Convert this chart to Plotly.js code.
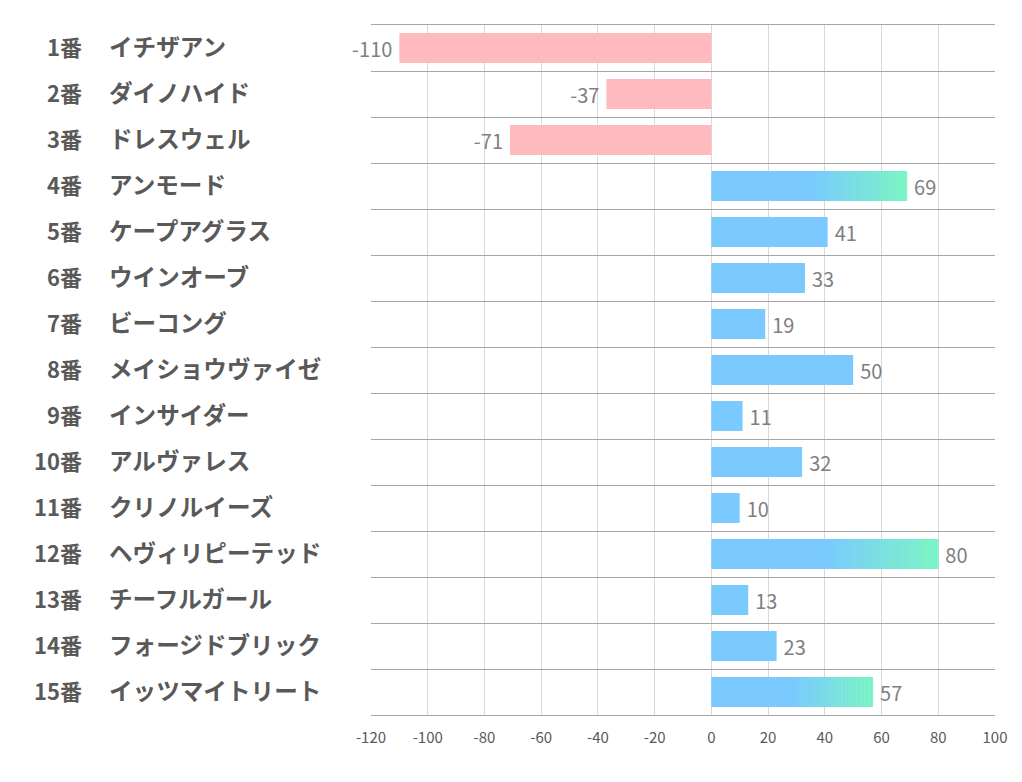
<!DOCTYPE html>
<html>
<head>
<meta charset="utf-8">
<script src="https://cdn.plot.ly/plotly-3.0.1.min.js"></script>
<style>
html,body{margin:0;padding:0;background:#fff;}
#chart{width:1022px;height:782px;}
</style>
</head>
<body>
<div id="chart"></div>
<script>
// ---- data ----
const numbers = ['1番','2番','3番','4番','5番','6番','7番','8番','9番','10番','11番','12番','13番','14番','15番'];
const names = ['イチザアン','ダイノハイド','ドレスウェル','アンモード','ケープアグラス','ウインオーブ','ビーコング','メイショウヴァイゼ','インサイダー','アルヴァレス','クリノルイーズ','ヘヴィリピーテッド','チーフルガール','フォージドブリック','イッツマイトリート'];
const values = [-110, -37, -71, 69, 41, 33, 19, 50, 11, 32, 10, 80, 13, 23, 57];
const gradientHorses = ['4番','12番','15番'];
const xTickValues = [-120,-100,-80,-60,-40,-20,0,20,40,60,80,100];

// ---- styling ----
const PINK = [255,186,189];
const BLUE = [122,202,255];
const GREEN = [124,249,190];
const TEXT = '#595959';
const JP = '"Noto Sans CJK JP", "Noto Sans", sans-serif';

function rgb(c){return 'rgb('+c.map(v=>Math.round(v)).join(',')+')';}

const baseTrace = {
  type:'bar', orientation:'h',
  y: numbers, x: values,
  marker:{color: values.map(v => v<0 ? rgb(PINK) : rgb(BLUE)), line:{width:0}},
  text: values.map(v => v<0 ? String(v)+'\u2009' : '\u2009'+String(v)),
  textposition:'outside',
  cliponaxis:false,
  textfont:{family:JP, size:20, color:'#7f7f7f'},
  hoverinfo:'skip'
};

// gradient overlay for selected bars (last half of bar fades blue -> green)
const segY=[], segBase=[], segLen=[], segCol=[];
const NSEG = 60;
numbers.forEach((n,i)=>{
  if(!gradientHorses.includes(n)) return;
  const v = values[i];
  const start = v*0.5;
  const step = (v-start)/NSEG;
  for(let k=0;k<NSEG;k++){
    const t = (k+0.5)/NSEG;
    segY.push(n);
    segBase.push(start + k*step);
    segLen.push(step*1.02);
    segCol.push(rgb(BLUE.map((b,j)=>b+(GREEN[j]-b)*t)));
  }
});
const gradTrace = {
  type:'bar', orientation:'h',
  y: segY, x: segLen, base: segBase,
  marker:{color: segCol, line:{width:0}},
  hoverinfo:'skip', textposition:'none'
};

const annotations = [];
numbers.forEach((n,i)=>{
  annotations.push({xref:'paper', yref:'y', x:-0.46, y:n, yshift:2, text:n, showarrow:false,
    xanchor:'right', yanchor:'middle', font:{family:JP, size:22, color:TEXT, weight:'bold'}});
  annotations.push({xref:'paper', yref:'y', x:-0.423, y:n, yshift:2, text:names[i], showarrow:false,
    xanchor:'left', yanchor:'middle', font:{family:JP, size:23.6, color:TEXT, weight:'bold'}});
});

const layout = {
  width:1022, height:782,
  margin:{l:371, r:27, t:25, b:67},
  paper_bgcolor:'#fff', plot_bgcolor:'#fff',
  barmode:'overlay', bargap:0.35,
  showlegend:false,
  xaxis:{
    range:[-120,100], tickvals:xTickValues, ticktext:xTickValues.map(String),
    showgrid:true, gridcolor:'#d9d9d9', gridwidth:1,
    zeroline:false, showline:true, mirror:true, linecolor:'#a6a6a6', linewidth:1,
    ticks:'', tickfont:{family:JP, size:15, color:TEXT}, ticklabelstandoff:9
  },
  yaxis:{
    type:'category', categoryorder:'array', categoryarray:numbers,
    range:[14.5,-0.5], showticklabels:false, ticks:'',
    tickson:'boundaries', showgrid:true, gridcolor:'#a6a6a6', gridwidth:1,
    zeroline:false, showline:false
  },
  annotations: annotations
};

Plotly.newPlot('chart',[baseTrace, gradTrace], layout, {displayModeBar:false, staticPlot:true});
</script>
</body>
</html>
